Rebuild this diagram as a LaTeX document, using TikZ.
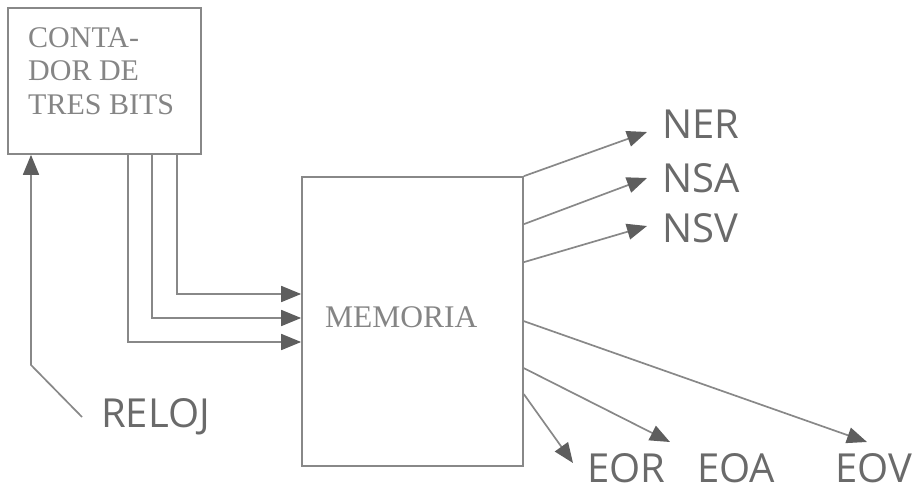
\documentclass[tikz,border=0pt]{standalone}
\usepackage{fontspec}
\setmainfont{Liberation Serif}
\newfontfamily\labelfont{Open Sans}
\usetikzlibrary{arrows.meta}
\definecolor{linegray}{HTML}{888888}
\definecolor{tipgray}{HTML}{5E5E5E}
\definecolor{sansgray}{HTML}{6A6A6A}
\definecolor{serifgray}{HTML}{858585}
\begin{document}
\begin{tikzpicture}[x=1pt,y=-1pt,
  block/.style={draw=linegray, line width=1.7pt, inner sep=0pt},
  sig/.style={draw=linegray, line width=1.7pt,
    -{Triangle[length=20pt,width=16pt,color=tipgray]}},
  outlbl/.style={text=sansgray, font=\labelfont\fontsize{40}{48}\selectfont,
    inner sep=0pt, anchor=base west},
  boxlbl/.style={text=serifgray, font=\fontsize{30}{33.5}\selectfont,
    inner sep=0pt}]
\useasboundingbox (0,0) rectangle (914,488);

% blocks
\node[block, minimum width=193pt, minimum height=146pt] (cnt) at (104.5,81) {};
\node[boxlbl, anchor=north west, align=left] (cntlbl) at (28,27)
  {CONTA-\\DOR DE\\TRES BITS};
\node[block, minimum width=221pt, minimum height=289pt] (mem) at (412.5,321.5) {};
\node[boxlbl, font=\fontsize{31.5}{36}\selectfont, anchor=base west] (memlbl)
  at (325,327) {MEMORIA};

% signal names
\node[outlbl] (ner) at (662,138) {NER};
\node[outlbl] (nsa) at (662,192) {NSA};
\node[outlbl] (nsv) at (662,242) {NSV};
\node[outlbl] (reloj) at (101,427) {RELOJ};
\node[outlbl] (eor) at (587,482) {EOR};
\node[outlbl] (eoa) at (697,482) {EOA};
\node[outlbl] (eov) at (835,482) {EOV};

% clock into the counter
\coordinate (clk) at (82,417);
\coordinate (bend) at (31,365);
\draw[sig] (clk) -- (bend) -- (bend |- cnt.south);

% three counter bits into the memory
\coordinate (q2) at (177,294);
\coordinate (q1) at (152,318);
\coordinate (q0) at (128,342);
\draw[sig] (q2 |- cnt.south) |- (q2 -| mem.west);
\draw[sig] (q1 |- cnt.south) |- (q1 -| mem.west);
\draw[sig] (q0 |- cnt.south) |- (q0 -| mem.west);

% memory outputs
\path (mem.north east) ++(0,48) coordinate (onsa)
      (mem.north east) ++(0,86) coordinate (onsv)
      (mem.north east) ++(0,145) coordinate (oeov)
      (mem.north east) ++(0,192) coordinate (oeoa)
      (mem.north east) ++(0,218) coordinate (oeor);
\coordinate (tner) at (647,132);
\coordinate (tnsa) at (647,178);
\coordinate (tnsv) at (647,226);
\coordinate (teor) at (573,463);
\coordinate (teoa) at (670,442);
\coordinate (teov) at (867,442);
\draw[sig] (mem.north east) -- (tner);
\draw[sig] (onsa) -- (tnsa);
\draw[sig] (onsv) -- (tnsv);
\draw[sig] (oeov) -- (teov);
\draw[sig] (oeoa) -- (teoa);
\draw[sig] (oeor) -- (teor);
\end{tikzpicture}
\end{document}
